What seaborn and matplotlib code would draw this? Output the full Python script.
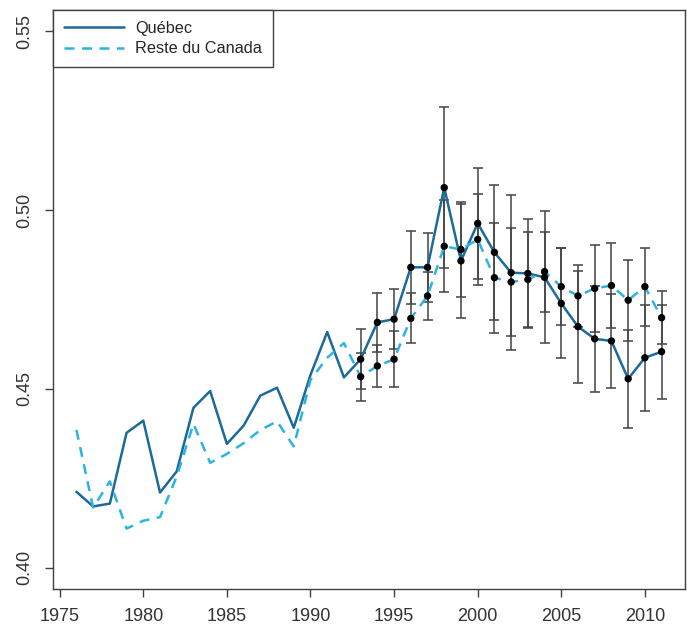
import numpy as np
import pandas as pd
import seaborn as sns
import matplotlib.pyplot as plt
from matplotlib.lines import Line2D

years = list(range(1976, 2012))
quebec = [0.4212, 0.4171, 0.4179, 0.4377, 0.4411, 0.4210, 0.4269, 0.4447, 0.4494,
          0.4346, 0.4397, 0.4481, 0.4503, 0.4391, 0.4539, 0.4659, 0.4532, 0.4583,
          0.4686, 0.4695, 0.4840, 0.4840, 0.5063, 0.4858, 0.4963, 0.4882, 0.4825,
          0.4823, 0.4812, 0.4739, 0.4674, 0.4640, 0.4634, 0.4528, 0.4587, 0.4604]
reste_canada = [0.4385, 0.4168, 0.4241, 0.4109, 0.4131, 0.4141, 0.4255, 0.4402, 0.4293,
                0.4318, 0.4348, 0.4385, 0.4409, 0.4339, 0.4525, 0.4587, 0.4628, 0.4534,
                0.4564, 0.4583, 0.4697, 0.4760, 0.4899, 0.4890, 0.4918, 0.4811, 0.4799,
                0.4806, 0.4828, 0.4786, 0.4760, 0.4781, 0.4789, 0.4748, 0.4786, 0.4699]

# error bars only from 1993 on
err_years = list(range(1993, 2012))
quebec_err = [0.0084, 0.0083, 0.0084, 0.0102, 0.0097, 0.0225, 0.0159, 0.0155, 0.0189,
              0.0217, 0.0152, 0.0185, 0.0154, 0.0157, 0.0149, 0.0131, 0.0137, 0.0148, 0.0132]
rdc_err = [0.0067, 0.0060, 0.0078, 0.0070, 0.0067, 0.0128, 0.0132, 0.0127, 0.0154,
           0.0150, 0.0132, 0.0112, 0.0108, 0.0087, 0.0121, 0.0120, 0.0113, 0.0109, 0.0074]

qc_col = '#1c6a9a'
rdc_col = '#2bb4e2'

df = pd.DataFrame({'annee': years, 'Québec': quebec, 'Reste du Canada': reste_canada})
sub = df[df['annee'].isin(err_years)].copy()
sub['qc_err'] = quebec_err
sub['rdc_err'] = rdc_err

sns.set_style('white')
plt.rcParams['font.family'] = ['Liberation Sans', 'DejaVu Sans']

fig = plt.figure(figsize=(6.9, 6.27), dpi=100)
ax = fig.add_axes([53 / 690, 1 - 589 / 627, 632 / 690, 579 / 627])

for col, e in [('Québec', 'qc_err'), ('Reste du Canada', 'rdc_err')]:
    ax.errorbar(sub['annee'], sub[col], yerr=sub[e], fmt='none', ecolor='#444444',
                elinewidth=1.3, capsize=3.5, capthick=1.3, alpha=0.85, zorder=2)

sns.lineplot(data=df, x='annee', y='Québec', ax=ax, color=qc_col, lw=1.8, zorder=3)
sns.lineplot(data=df, x='annee', y='Reste du Canada', ax=ax, color=rdc_col, lw=1.8,
             dashes=False, zorder=3)
ax.lines[-1].set_dashes((4, 3))

sns.scatterplot(data=sub, x='annee', y='Québec', ax=ax, color='black', s=28,
                edgecolor='none', zorder=4)
sns.scatterplot(data=sub, x='annee', y='Reste du Canada', ax=ax, color='black', s=28,
                edgecolor='none', zorder=4)

ax.set_xlim(1974.6, 2012.4)
ax.set_ylim(0.394, 0.556)
ax.set_xticks(range(1975, 2011, 5))
ax.set_yticks([0.40, 0.45, 0.50, 0.55])
ax.set_yticklabels(['0.40', '0.45', '0.50', '0.55'], rotation=90, va='center')
ax.set_xlabel('')
ax.set_ylabel('')
ax.tick_params(axis='both', direction='out', length=6, width=1, color='#404040',
               labelcolor='#333333', labelsize=13, left=True, bottom=True)
ax.tick_params(axis='x', pad=7.5)
ax.tick_params(axis='y', pad=8)
for s in ax.spines.values():
    s.set_color('#404040')
    s.set_linewidth(1)

handles = [Line2D([], [], color=qc_col, lw=1.8),
           Line2D([], [], color=rdc_col, lw=1.8, dashes=(4, 3))]
leg = ax.legend(handles, ['Québec', 'Reste du Canada'], loc='upper left',
                bbox_to_anchor=(0, 1), fontsize=11.7, frameon=True, fancybox=False,
                edgecolor='#404040', handlelength=3.7, borderaxespad=0,
                borderpad=0.65, labelspacing=0.35, handletextpad=0.7)
leg.get_frame().set_linewidth(1)
leg.get_frame().set_alpha(1)

fig.savefig('out.png', dpi=100)
